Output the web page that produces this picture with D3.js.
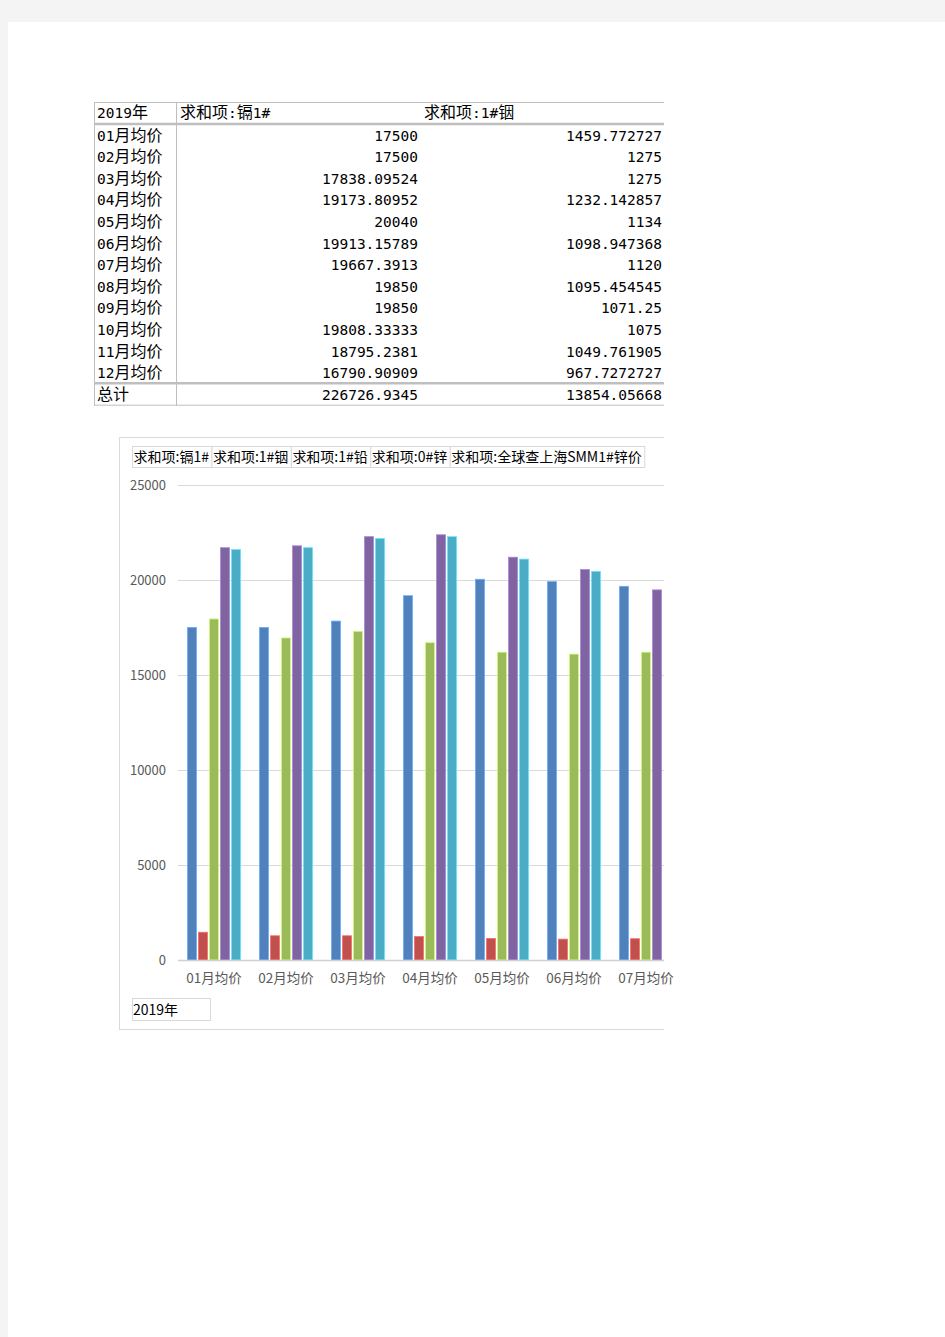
<!DOCTYPE html>
<html><head><meta charset="utf-8">
<script src="https://cdn.jsdelivr.net/npm/d3@7"></script>
<style>
html,body{margin:0;padding:0;background:#f4f4f4;}
svg{display:block;}
</style></head>
<body>
<svg id="c" width="945" height="1337"></svg>
<script>
// ---- data ----
const yearLabel = "2019年";
const months = ["01月均价","02月均价","03月均价","04月均价","05月均价","06月均价","07月均价","08月均价","09月均价","10月均价","11月均价","12月均价"];
const tableHeaders = ["求和项:镉1#", "求和项:1#铟"];
const cadmium = [17500, 17500, 17838.09524, 19173.80952, 20040, 19913.15789, 19667.3913, 19850, 19850, 19808.33333, 18795.2381, 16790.90909];
const indium = [1459.772727, 1275, 1275, 1232.142857, 1134, 1098.947368, 1120, 1095.454545, 1071.25, 1075, 1049.761905, 967.7272727];
const totalLabel = "总计";
const totals = [226726.9345, 13854.05668];

// chart (only first 7 months visible in the print area)
const chartMonths = months.slice(0, 7);
const seriesNames = ["求和项:镉1#", "求和项:1#铟", "求和项:1#铅", "求和项:0#锌", "求和项:全球查上海SMM1#锌价"];
const lead = [17950, 16950, 17300, 16700, 16200, 16100, 16200];
const zinc0 = [21700, 21800, 22280, 22380, 21200, 20550, 19480];
const zincSMM = [21600, 21700, 22180, 22280, 21100, 20450, null];
const seriesValues = [cadmium.slice(0, 7), indium.slice(0, 7), lead, zinc0, zincSMM];
const colors = ["#4f81bd", "#c0504d", "#9bbb59", "#8064a2", "#4bacc6"];
const yTicks = [0, 5000, 10000, 15000, 20000, 25000];

// ---- drawing ----
const svg = d3.select("#c");
svg.append("rect").attr("x", 8).attr("y", 22).attr("width", 937).attr("height", 1315).attr("fill", "#fff");

svg.append("defs").append("clipPath").attr("id", "pa")
  .append("rect").attr("x", 0).attr("y", 0).attr("width", 664).attr("height", 1337);
const root = svg.append("g").attr("clip-path", "url(#pa)");

// ---- table ----
const monoFont = "'DejaVu Sans Mono','Liberation Mono',monospace";
const cjkFont = "'Noto Sans CJK SC',sans-serif";
const tg = root.append("g").attr("fill", "#000");
const tLeft = 94, tDiv = 176, tTop = 102, hdrH = 22, rowH = 21.6;
const rowsTop = tTop + hdrH;
const rowsBottom = rowsTop + rowH * months.length;
const tBottom = rowsBottom + 21.5;
const col2Right = 418, col3Right = 662;
const lineC = "#bfbfbf";

function mixedText(g, x, y, str, anchor) {
  const t = g.append("text").attr("x", x).attr("y", y).attr("text-anchor", anchor || "start");
  const runs = str.match(/[\u3000-\u9fff\uff00-\uffef]+|[^\u3000-\u9fff\uff00-\uffef]+/g) || [];
  runs.forEach(r => {
    const cjk = /[\u3000-\u9fff]/.test(r);
    t.append("tspan").attr("font-family", cjk ? cjkFont : monoFont)
      .attr("font-size", cjk ? 16 : 14.5).text(r);
  });
  return t;
}

function hline(y, w) { tg.append("line").attr("x1", tLeft).attr("x2", 700).attr("y1", y).attr("y2", y).attr("stroke", lineC).attr("stroke-width", w || 1); }
hline(tTop + 0.5);
hline(rowsTop, 2.5);
hline(rowsBottom, 2.5);
hline(tBottom + 0.5);
tg.append("line").attr("x1", tLeft + 0.5).attr("x2", tLeft + 0.5).attr("y1", tTop).attr("y2", tBottom + 1).attr("stroke", lineC);
tg.append("line").attr("x1", tDiv + 0.5).attr("x2", tDiv + 0.5).attr("y1", tTop).attr("y2", tBottom + 1).attr("stroke", lineC);

mixedText(tg, tLeft + 3, tTop + 16, yearLabel);
mixedText(tg, tDiv + 4, tTop + 16, tableHeaders[0]);
mixedText(tg, 424, tTop + 16, tableHeaders[1]);

months.forEach((m, i) => {
  const y = rowsTop + rowH * i + 16.5;
  mixedText(tg, tLeft + 3, y, m);
  mixedText(tg, col2Right, y, String(cadmium[i]), "end");
  mixedText(tg, col3Right, y, String(indium[i]), "end");
});
mixedText(tg, tLeft + 3, rowsBottom + 16.5, totalLabel);
mixedText(tg, col2Right, rowsBottom + 16.5, String(totals[0]), "end");
mixedText(tg, col3Right, rowsBottom + 16.5, String(totals[1]), "end");

// ---- chart ----
const chartFont = "'Noto Sans CJK SC','Noto Sans',sans-serif";
const cg = root.append("g").attr("font-family", chartFont);
const chartL = 119, chartT = 437, chartB = 1029;
cg.append("rect").attr("x", chartL + 0.5).attr("y", chartT + 0.5).attr("width", 700).attr("height", chartB - chartT)
  .attr("fill", "#fff").attr("stroke", "#d9d9d9");

const plotL = 178, step = 72;
const y = d3.scaleLinear().domain([0, 25000]).range([960, 485]);
const x = d3.scaleBand().domain(chartMonths).range([plotL, plotL + step * chartMonths.length]).padding(0);
const xs = d3.scaleBand().domain(d3.range(seriesNames.length)).range([0, step]).paddingInner(0.18).paddingOuter(0.86);

// gridlines
const yAxis = d3.axisLeft(y).tickValues(yTicks).tickSize(-(step * 12)).tickFormat(d3.format("d")).tickPadding(12);
const ya = cg.append("g").attr("transform", `translate(${plotL},0)`).call(yAxis);
ya.select(".domain").remove();
ya.selectAll(".tick line").attr("stroke", "#d9d9d9").attr("stroke-width", 1);
ya.selectAll(".tick text").attr("fill", "#595959").attr("font-size", 13).attr("font-family", chartFont);

// bars
const groups = cg.append("g").selectAll("g").data(chartMonths).join("g")
  .attr("transform", d => `translate(${x(d)},0)`);
groups.selectAll("rect")
  .data((m, mi) => seriesValues.map((vals, si) => ({ si, v: vals[mi] })).filter(d => d.v != null))
  .join("rect")
  .attr("x", d => xs(d.si))
  .attr("width", xs.bandwidth())
  .attr("y", d => y(d.v))
  .attr("height", d => y(0) - y(d.v))
  .attr("fill", d => colors[d.si])
  .attr("stroke", d => d3.color(colors[d.si]).brighter(0.8))
  .attr("stroke-width", 0.8);

// x axis baseline (clipped)
cg.append("line").attr("x1", plotL).attr("x2", plotL + step * 12).attr("y1", y(0) + 0.5).attr("y2", y(0) + 0.5)
  .attr("stroke", "#d0d0d0").attr("stroke-width", 1.5);

// x axis labels (not clipped – they spill over the print edge in the reference)
const xAxis = d3.axisBottom(x).tickSize(0).tickPadding(13);
const xa = svg.append("g").attr("transform", `translate(0,${y(0)})`).call(xAxis);
xa.select(".domain").remove();
xa.selectAll(".tick text").attr("fill", "#595959").attr("font-size", 13.5).attr("font-family", chartFont);

// field buttons (legend)
const lg = cg.append("g").attr("font-size", 14).attr("fill", "#000");
let bx = 132;
seriesNames.forEach((name) => {
  const t = lg.append("text").attr("x", bx + 1.5).attr("y", 462).text(name);
  const w = t.node().getComputedTextLength() + 4;
  lg.insert("rect", "text").attr("x", bx + 0.5).attr("y", 446.5).attr("width", w).attr("height", 21)
    .attr("fill", "#fff").attr("stroke", "#d9d9d9");
  bx += w;
});

// axis field button
const ab = cg.append("g");
ab.append("rect").attr("x", 132.5).attr("y", 998.5).attr("width", 78).attr("height", 22).attr("fill", "#fff").attr("stroke", "#d9d9d9");
ab.append("text").attr("x", 133).attr("y", 1015).attr("font-size", 14).attr("fill", "#000").text(yearLabel);
</script>
</body></html>
